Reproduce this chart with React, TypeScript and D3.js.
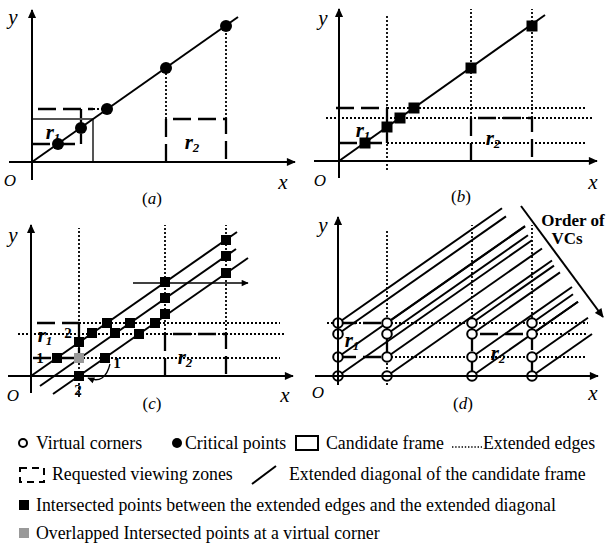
import React from 'react';
import * as d3 from 'd3';

type P = [number, number];

const SLOPE = 0.7;
const DASH = '18,7';
const DOT = '2,2';
const SERIF = '"Liberation Serif", "Times New Roman", Times, serif';

// panel layout
const panelCaptions = ['a', 'b', 'c', 'd'];
const panelOrigins: P[] = [[32, 162], [339, 161], [31, 376], [338, 376]];
const axisXExtent: P[] = [[-23, 263], [-25, 258], [-23, 262], [-23, 260]];
const axisYExtent: P[] = [[-18, 152], [-17, 152], [-17, 151], [-9, 159]];
const captionPos: P[] = [[120, -36], [122, -35], [121, -27], [125, -27]];
const yLabelPos: P[] = [[-19, 145], [-16, 143], [-18, 141], [-15, 151]];
const oLabelPos: P[] = [[-22, -18], [-19, -19], [-18, -19], [-20, -16]];
const xLabelPos: P[] = [[251, -20], [254, -21], [254, -19], [255, -17]];
const r1LabelPos: P[] = [[21, 30], [24, 31], [14, 41], [14, 36]];
const r2LabelPos: P[] = [[160, 20], [154, 23], [154, 19], [160, 23]];

// panel (a)
const aDiagonal: P[] = [[0, 0], [206, 145]];
const aFrame: P[] = [[0, 0], [0, 43], [61, 43], [61, 0]];
const aCritical: P[] = [[26, 18], [49, 34], [75, 53], [134, 94], [194, 136]];
const aDotted: P[][] = [[[61, 53], [75, 53]], [[134, 43], [134, 94]], [[194, 43], [194, 136]]];
const aDashed: P[][] = [
  [[6, 53], [61, 53]], [[49, 53], [49, 18]], [[0, 18], [49, 18]],
  [[134, 0], [134, 43], [194, 43], [194, 0]],
];

// panel (b)
const bDiagonal: P[] = [[0, 0], [206, 146]];
const bSquares: P[] = [[26, 18], [48, 34], [61, 43], [75, 53], [132, 93], [193, 135]];
const bDotted: P[][] = [
  [[48, -9], [48, 146]], [[132, 43], [132, 152]], [[193, 43], [193, 152]],
  [[48, 53], [248, 53]], [[-13, 43], [253, 43]], [[48, 18], [248, 18]],
];
const bDashed: P[][] = [
  [[-3, 53], [48, 53]], [[48, 53], [48, 18]], [[0, 18], [48, 18]],
  [[132, 0], [132, 43], [193, 43], [193, 0]],
];

// panel (c)
const cDiagonals: P[][] = [[[0, 0], [206, 144]], [[9, -10], [205, 127]], [[22, -18], [217, 118]]];
const cSquares: P[] = [
  [26, 18], [48, 34], [61, 43], [76, 53], [134, 94], [195, 136],
  [84, 43], [99, 53], [134, 78], [195, 120],
  [48, 0], [74, 18], [108, 42], [124, 53], [134, 62], [195, 103],
];
const cGray: P[] = [[48, 18]];
const cDotted: P[][] = [
  [[48, -21], [48, 148]], [[134, 42], [134, 151]], [[195, 42], [195, 151]],
  [[48, 53], [249, 53]], [[-13, 42], [254, 42]], [[48, 18], [249, 18]],
];
const cDashed: P[][] = [
  [[6, 53], [48, 53]], [[48, 53], [48, 18]], [[2, 18], [48, 18]],
  [[134, 0], [134, 42], [195, 42], [195, 0]],
];
const cArrow: P[] = [[102, 93], [217, 93]];
const cCurve: P[] = [[79, 12], [74, -9], [57, -2]];
const cNumText = ['1', '2', '1', '2'];
const cNumPos: P[] = [[9, 18], [37, 43], [86, 13], [47, -14]];

// panel (d)
const dCornerX = [0, 49, 134, 194];
const dCornerY = [0, 19, 42, 53];
const dLineEndX: number[][] = [
  [194, 187, 168, 164],
  [214, 204, 190, 187],
  [240, 234, 222, 216],
  [254, 250, 240, 235],
];
const dDotted: P[][] = [
  [[49, -9], [49, 147]], [[134, 42], [134, 151]], [[194, 42], [194, 151]],
  [[-11, 53], [250, 53]], [[194, 42], [250, 42]], [[49, 19], [249, 19]],
];
const dDashed: P[][] = [
  [[0, 53], [49, 53]], [[0, 19], [49, 19]], [[49, 19], [49, 53]],
  [[134, 0], [134, 42], [194, 42], [194, 0]],
];
const dOrderArrow: P[] = [[183, 170], [265, 59]];
const dOrderText = ['Order of', 'VCs'];
const dOrderPos: P[] = [[235, 156], [229, 138]];

// legend
const legendRow1 = ['Virtual corners', 'Critical points', 'Candidate frame', 'Extended edges'];
const legendRow2 = ['Requested viewing zones', 'Extended diagonal of the candidate frame'];
const legendRow3 = 'Intersected points between the extended edges and the extended diagonal';
const legendRow4 = 'Overlapped Intersected points at a virtual corner';

function scalesFor(i: number) {
  const [ox, oy] = panelOrigins[i];
  const x = d3.scaleLinear().domain([0, 100]).range([ox, ox + 100]);
  const y = d3.scaleLinear().domain([0, 100]).range([oy, oy - 100]);
  const line = d3.line<P>().x((d) => x(d[0])).y((d) => y(d[1]));
  return { x, y, line };
}

function Common({ i }: { i: number }) {
  const { x, y, line } = scalesFor(i);
  const xe = axisXExtent[i];
  const ye = axisYExtent[i];
  return (
    <g>
      <path d={line([[xe[0], 0], [xe[1], 0]]) || ''} stroke="#000" strokeWidth={2} fill="none" markerEnd="url(#axisArrow)" />
      <path d={line([[0, ye[0]], [0, ye[1]]]) || ''} stroke="#000" strokeWidth={2} fill="none" markerEnd="url(#axisArrow)" />
      <text x={x(yLabelPos[i][0])} y={y(yLabelPos[i][1])} fontSize={21} fontStyle="italic" textAnchor="middle" dominantBaseline="central">y</text>
      <text x={x(oLabelPos[i][0])} y={y(oLabelPos[i][1])} fontSize={17} fontStyle="italic" textAnchor="middle" dominantBaseline="central">O</text>
      <text x={x(xLabelPos[i][0])} y={y(xLabelPos[i][1])} fontSize={21} fontStyle="italic" textAnchor="middle" dominantBaseline="central">x</text>
      <text x={x(captionPos[i][0])} y={y(captionPos[i][1])} fontSize={17} textAnchor="middle" dominantBaseline="central">
        (<tspan fontStyle="italic">{panelCaptions[i]}</tspan>)
      </text>
      <text x={x(r1LabelPos[i][0])} y={y(r1LabelPos[i][1])} fontSize={21} fontStyle="italic" fontWeight="bold" textAnchor="middle" dominantBaseline="central">
        r<tspan fontSize={13} dy={5}>1</tspan>
      </text>
      <text x={x(r2LabelPos[i][0])} y={y(r2LabelPos[i][1])} fontSize={21} fontStyle="italic" fontWeight="bold" textAnchor="middle" dominantBaseline="central">
        r<tspan fontSize={13} dy={5}>2</tspan>
      </text>
    </g>
  );
}

function Lines({ i, dotted, dashed }: { i: number; dotted: P[][]; dashed: P[][] }) {
  const { line } = scalesFor(i);
  return (
    <g fill="none" stroke="#000">
      {dotted.map((s, k) => (
        <path key={'dt' + k} d={line(s) || ''} strokeWidth={1.8} strokeDasharray={DOT} />
      ))}
      {dashed.map((s, k) => (
        <path key={'ds' + k} d={line(s) || ''} strokeWidth={2.3} strokeDasharray={DASH} />
      ))}
    </g>
  );
}

function Squares({ i, pts, size, fill }: { i: number; pts: P[]; size: number; fill: string }) {
  const { x, y } = scalesFor(i);
  return (
    <g>
      {pts.map((p, k) => (
        <rect key={k} x={x(p[0]) - size / 2} y={y(p[1]) - size / 2} width={size} height={size} fill={fill} />
      ))}
    </g>
  );
}

function PanelA() {
  const i = 0;
  const { x, y, line } = scalesFor(i);
  return (
    <g>
      <Lines i={i} dotted={aDotted} dashed={aDashed} />
      <path d={(line(aFrame) || '')} fill="none" stroke="#555" strokeWidth={2} />
      <path d={line(aDiagonal) || ''} stroke="#000" strokeWidth={2} fill="none" />
      {aCritical.map((p, k) => (
        <circle key={k} cx={x(p[0])} cy={y(p[1])} r={6} fill="#000" />
      ))}
      <Common i={i} />
    </g>
  );
}

function PanelB() {
  const i = 1;
  const { line } = scalesFor(i);
  return (
    <g>
      <Lines i={i} dotted={bDotted} dashed={bDashed} />
      <path d={line(bDiagonal) || ''} stroke="#000" strokeWidth={2} fill="none" />
      <Squares i={i} pts={bSquares} size={11} fill="#000" />
      <Common i={i} />
    </g>
  );
}

function PanelC() {
  const i = 2;
  const { x, y, line } = scalesFor(i);
  const path = d3.path();
  path.moveTo(x(cCurve[0][0]), y(cCurve[0][1]));
  path.quadraticCurveTo(x(cCurve[1][0]), y(cCurve[1][1]), x(cCurve[2][0]), y(cCurve[2][1]));
  return (
    <g>
      <Lines i={i} dotted={cDotted} dashed={cDashed} />
      {cDiagonals.map((s, k) => (
        <path key={k} d={line(s) || ''} stroke="#000" strokeWidth={2} fill="none" />
      ))}
      <path d={line(cArrow) || ''} stroke="#000" strokeWidth={1.3} fill="none" markerEnd="url(#smallArrow)" />
      <path d={path.toString()} stroke="#000" strokeWidth={1.3} fill="none" markerEnd="url(#smallArrow)" />
      <Squares i={i} pts={cSquares} size={10} fill="#000" />
      <Squares i={i} pts={cGray} size={10} fill="#999" />
      {cNumText.map((t, k) => (
        <text key={k} x={x(cNumPos[k][0])} y={y(cNumPos[k][1])} fontSize={15} fontWeight="bold" textAnchor="middle" dominantBaseline="central">{t}</text>
      ))}
      <Common i={i} />
    </g>
  );
}

function PanelD() {
  const i = 3;
  const { x, y, line } = scalesFor(i);
  const corners: P[] = [];
  const diag: P[][] = [];
  dCornerX.forEach((cx, a) =>
    dCornerY.forEach((cy, b) => {
      corners.push([cx, cy]);
      const ex = dLineEndX[a][b];
      diag.push([[cx, cy], [ex, cy + SLOPE * (ex - cx)]]);
    })
  );
  return (
    <g>
      <Lines i={i} dotted={dDotted} dashed={dDashed} />
      {diag.map((s, k) => (
        <path key={k} d={line(s) || ''} stroke="#000" strokeWidth={2} fill="none" />
      ))}
      <path d={line(dOrderArrow) || ''} stroke="#000" strokeWidth={2} fill="none" markerEnd="url(#axisArrow)" />
      {dOrderText.map((t, k) => (
        <text key={k} x={x(dOrderPos[k][0])} y={y(dOrderPos[k][1])} fontSize={17} fontWeight="bold" textAnchor="middle" dominantBaseline="central">{t}</text>
      ))}
      {corners.map((p, k) => (
        <circle key={k} cx={x(p[0])} cy={y(p[1])} r={4.8} fill="#fff" stroke="#000" strokeWidth={2} />
      ))}
      <Common i={i} />
    </g>
  );
}

function Legend() {
  return (
    <g fontSize={17.8} fontFamily={SERIF}>
      {/* row 1 */}
      <circle cx={23} cy={443} r={4} fill="#fff" stroke="#000" strokeWidth={2} />
      <text x={36} y={449}>{legendRow1[0]}</text>
      <circle cx={177} cy={443} r={5} fill="#000" />
      <text x={185} y={449}>{legendRow1[1]}</text>
      <rect x={296} y={436} width={22} height={14} fill="none" stroke="#000" strokeWidth={2} />
      <text x={326} y={449}>{legendRow1[2]}</text>
      <line x1={452} x2={482} y1={447} y2={447} stroke="#000" strokeWidth={1.4} strokeDasharray="1.4,1.8" />
      <text x={483} y={449}>{legendRow1[3]}</text>
      {/* row 2 */}
      <rect x={20} y={468} width={24} height={14} fill="none" stroke="#000" strokeWidth={2} strokeDasharray="7,5" />
      <text x={52} y={480}>{legendRow2[0]}</text>
      <line x1={252} y1={484} x2={276} y2={466} stroke="#000" strokeWidth={2} />
      <text x={289} y={480}>{legendRow2[1]}</text>
      {/* row 3 */}
      <rect x={19} y={500} width={10} height={10} fill="#000" />
      <text x={36} y={511}>{legendRow3}</text>
      {/* row 4 */}
      <rect x={19} y={528} width={10} height={10} fill="#999" />
      <text x={36} y={539}>{legendRow4}</text>
    </g>
  );
}

export default function App() {
  return (
    <svg
      width={608}
      height={551}
      viewBox="0 0 608 551"
      fontFamily={SERIF}
      style={{ position: 'absolute', left: 0, top: 0, background: '#fff' }}
    >
      <defs>
        <marker id="axisArrow" viewBox="0 0 10 10" refX={9} refY={5} markerWidth={10} markerHeight={9} markerUnits="userSpaceOnUse" orient="auto">
          <path d="M0,0.5 L10,5 L0,9.5 z" fill="#000" />
        </marker>
        <marker id="smallArrow" viewBox="0 0 10 10" refX={9} refY={5} markerWidth={8} markerHeight={7} markerUnits="userSpaceOnUse" orient="auto">
          <path d="M0,0.5 L10,5 L0,9.5 z" fill="#000" />
        </marker>
      </defs>
      <rect x={0} y={0} width={608} height={551} fill="#fff" />
      <PanelA />
      <PanelB />
      <PanelC />
      <PanelD />
      <Legend />
    </svg>
  );
}
